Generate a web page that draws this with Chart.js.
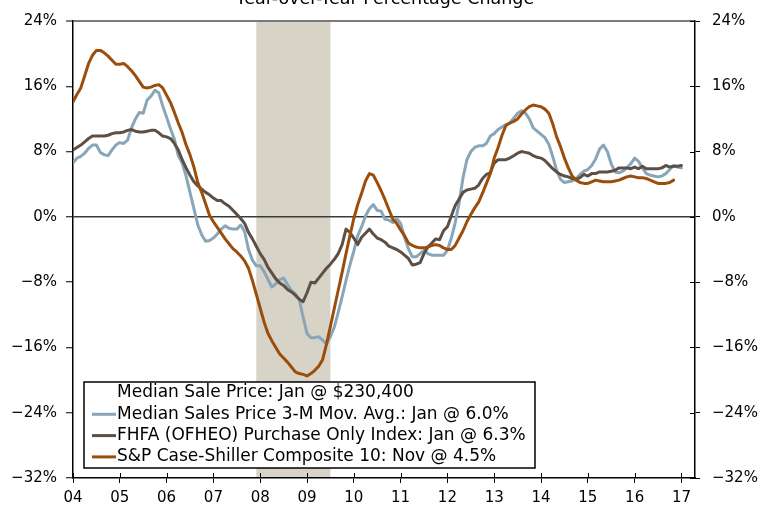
<!DOCTYPE html>
<html><head><meta charset="utf-8">
<script src="https://cdn.jsdelivr.net/npm/chart.js@4.4.0/dist/chart.umd.min.js"></script>
<style>html,body{margin:0;padding:0;background:#fff;overflow:hidden;} #wrap{width:772px;height:510px;position:relative;}</style>
</head><body><div id="wrap"><canvas id="c" width="772" height="510"></canvas></div>
<script>
// ---- data (monthly, starting Jan 2004) ----
const startYear = 2004;
const titleText = "Year-over-Year Percentage Change";
const yearTickLabels = ["04","05","06","07","08","09","10","11","12","13","14","15","16","17"];
const yTickValues = [-32,-24,-16,-8,0,8,16,24];
const recessions = [[2007.917, 2009.5]];
const legendLabels = [
  "Median Sale Price: Jan @ $230,400",
  "Median Sales Price 3-M Mov. Avg.: Jan @ 6.0%",
  "FHFA (OFHEO) Purchase Only Index: Jan @ 6.3%",
  "S&P Case-Shiller Composite 10: Nov @ 4.5%"
];
const medianSalesMA = [6.6,7.2,7.4,7.8,8.4,8.8,8.8,7.9,7.6,7.5,8.2,8.8,
9.1,9.0,9.4,10.9,12.0,12.8,12.7,14.3,14.8,15.5,15.2,13.6,
12.2,10.8,9.5,7.5,6.6,5.0,3.0,1.0,-1.0,-2.2,-3.0,-2.9,
-2.6,-2.1,-1.5,-1.1,-1.4,-1.5,-1.5,-1.0,-1.8,-4.0,-5.3,-6.0,
-6.0,-6.7,-7.7,-8.6,-8.2,-7.7,-7.5,-8.3,-9.0,-9.4,-10.1,-12.3,
-14.3,-14.8,-14.8,-14.7,-15.1,-15.6,-14.7,-13.5,-11.7,-9.8,-7.8,-5.9,
-4.2,-2.3,-1.2,0.1,1.0,1.5,0.8,0.7,-0.3,-0.4,-0.7,-0.2,
-0.8,-2.5,-3.9,-4.9,-4.9,-4.5,-4.1,-4.5,-4.7,-4.7,-4.7,-4.7,
-4.1,-2.6,-0.7,1.7,4.8,7.0,8.0,8.5,8.7,8.7,9.0,9.9,
10.2,10.7,11.0,11.3,11.5,12.1,12.7,13.0,12.7,12.0,10.9,10.5,
10.1,9.7,8.9,7.4,5.7,4.6,4.2,4.3,4.4,4.7,5.2,5.6,
5.8,6.3,7.1,8.3,8.8,8.0,6.5,5.5,5.4,5.6,6.0,6.5,
7.2,6.8,6.0,5.3,5.1,5.0,4.9,5.0,5.3,5.8,6.3,6.1,
6.0];
const fhfaIndex = [8.2,8.5,8.8,9.2,9.6,9.9,9.9,9.9,9.9,10.0,10.2,10.3,
10.3,10.4,10.6,10.7,10.5,10.4,10.4,10.5,10.6,10.6,10.3,9.9,
9.8,9.6,9.0,8.2,7.0,6.0,5.1,4.3,3.8,3.4,3.0,2.7,
2.3,2.0,2.0,1.6,1.3,0.8,0.3,-0.2,-0.8,-1.9,-2.7,-3.6,
-4.5,-5.2,-6.2,-6.9,-7.6,-8.1,-8.4,-8.9,-9.2,-9.6,-10.1,-10.4,
-9.3,-8.0,-8.1,-7.5,-6.9,-6.3,-5.8,-5.2,-4.5,-3.4,-1.5,-1.9,
-2.6,-3.4,-2.5,-2.0,-1.5,-2.1,-2.6,-2.8,-3.1,-3.6,-3.8,-4.0,
-4.3,-4.7,-5.1,-5.9,-5.8,-5.6,-4.5,-3.7,-3.2,-2.7,-2.8,-1.7,
-1.2,0.1,1.4,2.2,3.0,3.3,3.4,3.5,3.9,4.7,5.2,5.4,
6.6,7.0,7.0,7.0,7.2,7.5,7.8,8.0,7.9,7.8,7.5,7.3,
7.2,6.9,6.4,5.9,5.5,5.2,5.0,4.9,4.7,4.6,4.8,5.2,
5.0,5.3,5.3,5.5,5.5,5.5,5.6,5.7,6.0,6.0,6.0,5.9,
6.1,5.9,6.2,5.9,5.9,5.9,5.9,6.0,6.3,6.1,6.2,6.2,
6.3];
const caseShiller10 = [14.1,15.0,15.8,17.3,18.8,19.8,20.4,20.4,20.1,19.7,19.2,18.7,
18.7,18.8,18.4,17.9,17.3,16.6,15.9,15.8,15.9,16.1,16.2,15.8,
14.9,14.0,12.8,11.5,10.3,8.8,7.6,6.1,4.2,3.0,1.6,0.2,
-0.6,-1.3,-2.0,-2.7,-3.3,-3.9,-4.3,-4.8,-5.4,-6.3,-7.8,-9.5,
-11.2,-12.9,-14.3,-15.2,-16.0,-16.8,-17.3,-17.8,-18.4,-19.0,-19.2,-19.3,
-19.5,-19.2,-18.8,-18.3,-17.5,-15.6,-13.4,-11.2,-9.0,-6.8,-4.5,-2.3,
-0.2,1.5,2.9,4.4,5.3,5.1,4.2,3.2,2.1,0.9,-0.3,-0.8,
-1.6,-2.3,-3.2,-3.5,-3.7,-3.8,-3.8,-3.7,-3.5,-3.4,-3.5,-3.8,
-4.0,-4.0,-3.5,-2.6,-1.7,-0.6,0.3,1.1,1.8,2.9,4.1,5.3,
7.2,8.5,10.0,11.2,11.5,11.7,12.0,12.6,13.1,13.5,13.7,13.6,
13.5,13.2,12.7,11.4,9.8,8.6,7.2,6.0,5.0,4.5,4.2,4.1,
4.1,4.3,4.5,4.4,4.3,4.3,4.3,4.4,4.5,4.7,4.9,5.0,
4.9,4.8,4.8,4.7,4.5,4.3,4.1,4.1,4.1,4.2,4.5];

// ---- styling ----
const COL_BLUE = '#88A6B9', COL_DARK = '#5E4F45', COL_ORANGE = '#9B4D0C', COL_REC = '#D7D3C7';
const FONT = '"DejaVu Sans", Verdana, sans-serif';

const toPoints = arr => arr.map((v,i)=>({x: startYear + i/12, y: v}));
const pctLabel = v => (v < 0 ? '\u2212' + Math.abs(v) : String(v)) + '%';

const decor = {
  id: 'decor',
  beforeDraw(chart){
    const {ctx, chartArea:a, scales:{x}} = chart;
    ctx.save();
    ctx.fillStyle = COL_REC;
    recessions.forEach(([s,e])=>{
      const x0 = x.getPixelForValue(s), x1 = x.getPixelForValue(e);
      ctx.fillRect(x0, a.top+1, x1-x0, a.bottom-a.top-1);
    });
    ctx.restore();
  },
  afterDraw(chart){
    const {ctx, chartArea:a, scales:{x, y2}} = chart;
    ctx.save();
    // inner halves of tick marks
    ctx.strokeStyle = '#000'; ctx.lineWidth = 1;
    x.ticks.forEach(t=>{
      const px = Math.round(x.getPixelForValue(t.value)) + 0.5;
      ctx.beginPath(); ctx.moveTo(px, a.bottom); ctx.lineTo(px, a.bottom-5); ctx.stroke();
    });
    y2.ticks.forEach(t=>{
      const py = Math.round(y2.getPixelForValue(t.value)) + 0.5;
      ctx.beginPath(); ctx.moveTo(a.right-5, py); ctx.lineTo(a.right, py); ctx.stroke();
    });
    // title (partially above the page)
    ctx.fillStyle = '#000';
    ctx.font = '17.5px ' + FONT;
    ctx.textAlign = 'center'; ctx.textBaseline = 'alphabetic';
    ctx.fillText(titleText, 385, 4);
    // legend box
    const lx = 84, ly = 382, lw = 451, lh = 86;
    ctx.fillStyle = '#fff';
    ctx.fillRect(lx, ly, lw, lh);
    ctx.strokeStyle = '#000'; ctx.lineWidth = 1.5;
    ctx.strokeRect(lx, ly, lw, lh);
    const colors = [null, COL_BLUE, COL_DARK, COL_ORANGE];
    ctx.font = '17px ' + FONT;
    ctx.textAlign = 'left'; ctx.textBaseline = 'middle';
    legendLabels.forEach((lab, i)=>{
      const cy = ly + 11 + i*21.3;
      if (colors[i]) {
        ctx.strokeStyle = colors[i]; ctx.lineWidth = 3;
        ctx.beginPath(); ctx.moveTo(92, cy); ctx.lineTo(116, cy); ctx.stroke();
      }
      ctx.fillStyle = '#000';
      ctx.fillText(lab, 117, cy);
    });
    ctx.restore();
  }
};

const gridColor = ctx => {
  const v = ctx.tick && ctx.tick.value;
  if (v === 0) return '#3a3a3a';
  if (v === 24) return '#7a7a7a';
  return 'rgba(0,0,0,0)';
};
const gridWidth = ctx => {
  const v = ctx.tick && ctx.tick.value;
  return v === 24 ? 2 : 1.5;
};

const tickFont = {family: FONT, size: 15};

new Chart(document.getElementById('c'), {
  type: 'line',
  data: {
    datasets: [
      {label: legendLabels[3], data: toPoints(caseShiller10), borderColor: COL_ORANGE, borderWidth: 3, order: 1},
      {label: legendLabels[2], data: toPoints(fhfaIndex), borderColor: COL_DARK, borderWidth: 3, order: 2},
      {label: legendLabels[1], data: toPoints(medianSalesMA), borderColor: COL_BLUE, borderWidth: 3, order: 3}
    ]
  },
  options: {
    responsive: false,
    animation: false,
    devicePixelRatio: 1,
    parsing: false,
    elements: {point: {radius: 0}, line: {tension: 0, borderJoinStyle: 'round', borderCapStyle: 'round'}},
    layout: {padding: {top: 17, left: 0, right: 0, bottom: 0}},
    plugins: {legend: {display: false}, tooltip: {enabled: false}, title: {display: false}},
    scales: {
      x: {
        type: 'linear', min: startYear, max: 2017.29,
        afterBuildTicks: s => { s.ticks = yearTickLabels.map((_, i) => ({value: startYear + i})); },
        afterFit: s => { s.height = 32; },
        ticks: {callback: (v) => yearTickLabels[Math.round(v - startYear)], font: tickFont, color: '#000', padding: 6, maxRotation: 0, autoSkip: false},
        grid: {drawOnChartArea: false, tickLength: 5, tickColor: '#000', tickWidth: 1},
        border: {display: true, color: '#000', width: 1.5}
      },
      y: {
        position: 'left', min: -32, max: 24,
        afterBuildTicks: s => { s.ticks = yTickValues.map(v => ({value: v})); },
        afterFit: s => { s.width = 73; },
        ticks: {callback: pctLabel, font: tickFont, color: '#000', padding: 9},
        grid: {color: gridColor, lineWidth: gridWidth, tickLength: 7, tickColor: '#000', tickWidth: 1},
        border: {display: true, color: '#000', width: 1.5}
      },
      y2: {
        position: 'right', min: -32, max: 24,
        afterBuildTicks: s => { s.ticks = yTickValues.map(v => ({value: v})); },
        afterFit: s => { s.width = 77; },
        ticks: {callback: pctLabel, font: tickFont, color: '#000', padding: 12},
        grid: {drawOnChartArea: false, tickLength: 5, tickColor: '#000', tickWidth: 1},
        border: {display: true, color: '#000', width: 1.5}
      }
    }
  },
  plugins: [decor]
});
</script>
</body></html>
